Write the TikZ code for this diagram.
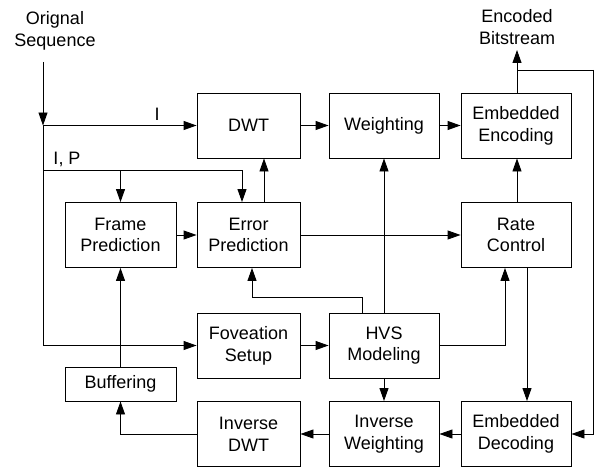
\documentclass[tikz,border=0pt]{standalone}
\usepackage{fontspec}
\setmainfont{Liberation Sans}
\usetikzlibrary{arrows.meta}
\begin{document}
\begin{tikzpicture}[x=1pt,y=-1pt,
  box/.style={draw,line width=0.9pt,minimum height=65pt,align=center,inner sep=0pt,font=\fontsize{18}{21.7}\selectfont},
  txt/.style={align=center,inner sep=0pt,font=\fontsize{18}{21.7}\selectfont},
  ln/.style={line width=0.9pt},
  arr/.style={line width=0.9pt,-{Triangle[length=13pt,width=9pt]}}]
\useasboundingbox (0,0) rectangle (596,468);
% boxes
\node[box,minimum width=103pt] (dwt) at (248.5,125.5) {DWT};
\node[box,minimum width=110pt] (wt) at (384,125.5) {Weighting};
\node[box,minimum width=110pt] (ee) at (516,125.5) {Embedded\\Encoding};
\node[box,minimum width=111pt] (fp) at (120.5,235) {Frame\\Prediction};
\node[box,minimum width=103pt] (ep) at (248.5,235) {Error\\Prediction};
\node[box,minimum width=110pt] (rc) at (516,235) {Rate\\Control};
\node[box,minimum width=103pt] (fs) at (248.5,345.5) {Foveation\\Setup};
\node[box,minimum width=110pt] (hvs) at (384,345.5) {HVS\\Modeling};
\node[box,minimum width=111pt,minimum height=34pt] (buf) at (120.5,384) {Buffering};
\node[box,minimum width=103pt] (idwt) at (248.5,434) {Inverse\\DWT};
\node[box,minimum width=110pt] (iw) at (384,434) {Inverse\\Weighting};
\node[box,minimum width=110pt] (ed) at (516,434) {Embedded\\Decoding};
% texts
\node[txt] (orig) at (55,31) {Orignal\\Sequence};
\node[txt] (bits) at (517,27) {Encoded\\Bitstream};
\node[txt] (lI) at (157,114) {I};
\node[txt] (lIP) at (67,159) {I, P};
% coordinates
\coordinate (s0) at (43,62);
\coordinate (j1) at (43,125.5);
\coordinate (j2) at (43,170);
\coordinate (j3) at (43,345.5);
\coordinate (ipe) at (242,170);
\coordinate (ipf) at (120.5,170);
\coordinate (bend) at (517,50);
\coordinate (br) at (517,70);
\coordinate (brr) at (593,70);
% connectors
\draw[arr] (s0) -- (j1);
\draw[ln] (j1) -- (j3);
\draw[arr] (j1) -- (dwt.west);
\draw[ln] (j2) -- (ipe);
\draw[arr] (ipf) -- (fp.north);
\draw[arr] (ipe) -- (ipe |- ep.north);
\draw[arr] (ep.north -| 264,0) -- (dwt.south -| 264,0);
\draw[arr] (fp.east) -- (ep.west);
\draw[arr] (ep.east) -- (rc.west);
\draw[arr] (dwt.east) -- (wt.west);
\draw[arr] (wt.east) -- (ee.west);
\draw[arr] (ee.north -| br) -- (bend);
\draw[ln] (br) -- (brr);
\draw[arr] (brr) |- (ed.east);
\draw[arr] (rc.north -| br) -- (ee.south -| br);
\draw[arr] (rc.south -| 527,0) -- (ed.north -| 527,0);
\draw[arr] (hvs.east) -| (rc.south -| 505,0);
\draw[arr] (hvs.north) -- (wt.south);
\draw[arr] (hvs.north -| 362,0) |- (252,297) -- (ep.south -| 252,0);
\draw[arr] (hvs.south) -- (iw.north);
\draw[arr] (ed.west) -- (iw.east);
\draw[arr] (iw.west) -- (idwt.east);
\draw[arr] (idwt.west) -| (buf.south);
\draw[arr] (buf.north) -- (fp.south);
\draw[arr] (j3) -- (fs.west);
\draw[arr] (fs.east) -- (hvs.west);
\end{tikzpicture}
\end{document}
